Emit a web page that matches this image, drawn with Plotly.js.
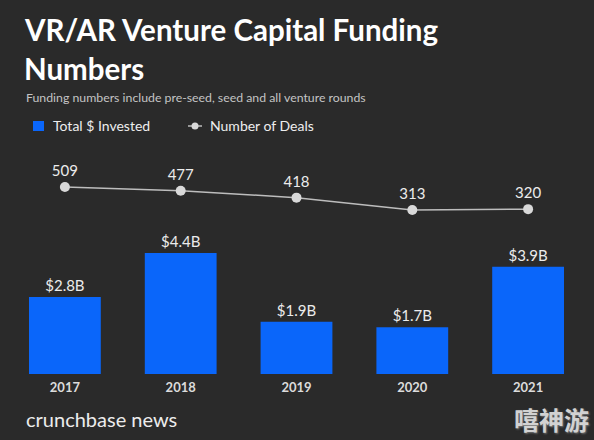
<!DOCTYPE html>
<html>
<head>
<meta charset="utf-8">
<script src="https://cdn.plot.ly/plotly-3.0.1.min.js"></script>
<style>html,body{margin:0;padding:0;background:#2a2a2a;}#chart{width:594px;height:440px;}</style>
</head>
<body>
<div id="chart"></div>
<script>
const years = ['2017', '2018', '2019', '2020', '2021'];
const invested = [2.8, 4.4, 1.9, 1.7, 3.9];
const deals = [509, 477, 418, 313, 320];

const W = 594, H = 440;
const M = {l: 7, r: 8, t: 150, b: 66};
const PW = W - M.l - M.r, PH = H - M.t - M.b;
const px = x => (x - M.l) / PW;
const py = y => (H - M.b - y) / PH;

const FONT = 'Lato, "Open Sans", sans-serif';
const BG = '#2a2a2a';

const bars = {
  type: 'bar', x: years, y: invested, width: 0.62,
  marker: {color: '#0a66fa'},
  texttemplate: '$%{y:.1f}B', textposition: 'outside', cliponaxis: false,
  textfont: {color: '#ececec', size: 15, family: FONT},
  hoverinfo: 'skip', showlegend: false
};
const line = {
  type: 'scatter', mode: 'lines+markers+text', x: years, y: deals, yaxis: 'y2',
  line: {color: '#bdbdbd', width: 1.5},
  marker: {color: '#d9d9d9', size: 10},
  text: deals.map(String), textposition: 'top center', cliponaxis: false,
  textfont: {color: '#ececec', size: 15, family: FONT},
  hoverinfo: 'skip', showlegend: false
};

const titleFont = {size: 29.5, color: '#ffffff', family: FONT, weight: 'bold'};
const layout = {
  width: W, height: H, margin: M,
  paper_bgcolor: BG, plot_bgcolor: BG,
  font: {family: FONT, color: '#e6e6e6'},
  xaxis: {
    type: 'category', range: [-0.5, 4.5], showgrid: false, zeroline: false,
    showline: false, ticks: '', fixedrange: true, ticklabelstandoff: 4,
    tickfont: {size: 13, color: '#dcdcdc', family: FONT, weight: 'bold'}
  },
  yaxis: {range: [0, PH / 27.5], visible: false, fixedrange: true},
  yaxis2: {range: [-1085, 824], overlaying: 'y', visible: false, fixedrange: true},
  shapes: [
    {type: 'rect', xref: 'paper', yref: 'paper', x0: px(33), x1: px(44), y0: py(131), y1: py(121),
     fillcolor: '#0a66fa', line: {width: 0}},
    {type: 'line', xref: 'paper', yref: 'paper', x0: px(188), x1: px(202), y0: py(126), y1: py(126),
     line: {color: '#bdbdbd', width: 1.5}},
    {type: 'circle', xref: 'paper', yref: 'paper', x0: px(191.5), x1: px(198.5), y0: py(129.5), y1: py(122.5),
     fillcolor: '#d9d9d9', line: {width: 0}}
  ],
  annotations: [
    {text: 'VR/AR Venture Capital Funding', xref: 'paper', yref: 'paper',
     x: px(22), y: py(30), xanchor: 'left', yanchor: 'middle', showarrow: false, font: titleFont},
    {text: 'Numbers', xref: 'paper', yref: 'paper',
     x: px(22), y: py(68), xanchor: 'left', yanchor: 'middle', showarrow: false, font: titleFont},
    {text: 'Funding numbers include pre-seed, seed and all venture rounds', xref: 'paper', yref: 'paper',
     x: px(24), y: py(97), xanchor: 'left', yanchor: 'middle', showarrow: false,
     font: {size: 12.3, color: '#c4c4c4', family: FONT}},
    {text: 'Total $ Invested', xref: 'paper', yref: 'paper', x: px(51), y: py(126),
     xanchor: 'left', yanchor: 'middle', showarrow: false,
     font: {size: 14, color: '#eeeeee', family: FONT}},
    {text: 'Number of Deals', xref: 'paper', yref: 'paper', x: px(208), y: py(126),
     xanchor: 'left', yanchor: 'middle', showarrow: false,
     font: {size: 14, color: '#eeeeee', family: FONT}},
    {text: 'crunchbase news', xref: 'paper', yref: 'paper', x: px(24), y: py(419),
     xanchor: 'left', yanchor: 'middle', showarrow: false,
     font: {size: 20, color: '#ececec', family: FONT}},
    {text: '嘻神游', xref: 'paper', yref: 'paper', x: px(591), y: py(419),
     xanchor: 'right', yanchor: 'middle', showarrow: false,
     font: {size: 25, color: '#d2d2d2', family: '"Noto Sans CJK SC", sans-serif', weight: 'bold',
            shadow: '1px 1px 2px #777'}}
  ]
};

Plotly.newPlot('chart', [bars, line], layout, {displayModeBar: false, staticPlot: true});
</script>
</body>
</html>
